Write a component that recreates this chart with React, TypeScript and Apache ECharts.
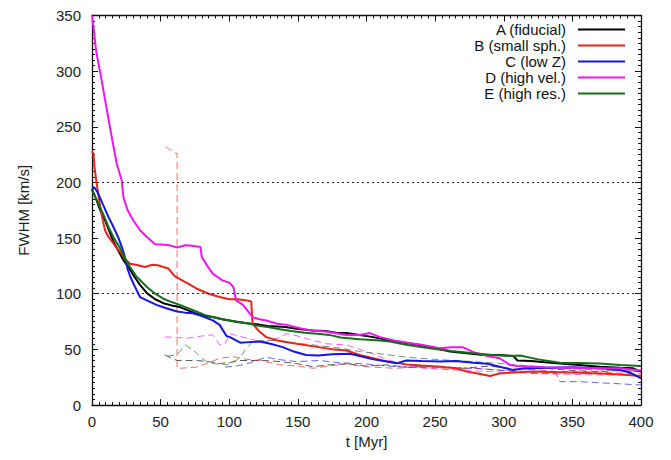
import React, { useEffect, useRef } from "react";
import * as echarts from "echarts";

// Tick settings
const xMin = 0;
const xMax = 400;
const xStep = 50;
const yMin = 0;
const yMax = 350;
const yStep = 50;
const gridLevels = [100, 200];

const legendNames = ["A (fiducial)", "B (small sph.)", "C (low Z)", "D (high vel.)", "E (high res.)"];

// Solid curves [t (Myr), FWHM (km/s)]
const seriesA = [
  [0, 194], [3, 185], [6, 175], [9.5, 166], [13, 155], [16, 146], [19, 139], [23, 130], [26.5, 124], [31, 115],
  [35, 108], [40, 100.5], [46, 95], [52, 91.5], [58, 89.5], [64, 88], [70, 85], [76, 82], [82, 80], [88, 79],
  [95, 77], [100, 76], [106, 74.5], [113, 73.5], [120, 72.5], [128, 71], [135, 70.5], [141, 70], [146.5, 69],
  [152, 68], [161, 67], [170, 66.5], [178, 65], [185.5, 64.6], [195, 63], [205, 61], [217, 58], [228, 56],
  [239, 54], [250, 51], [261, 48], [273, 46.5], [285, 45], [297, 45], [307, 44], [310, 40], [320, 39.5],
  [330, 38.5], [341, 37.4], [355, 36], [370, 34.4], [385, 33.5], [394, 33], [400, 30],
];
const seriesB = [
  [0, 228], [1, 226], [2, 212], [3.4, 199], [6, 178], [8, 165], [9.5, 157], [12, 151], [14, 148], [18, 141],
  [21.6, 136], [25, 130], [27.7, 127], [32, 126], [38.6, 124], [44, 126], [48, 125.6], [52, 124], [55.6, 122.7],
  [60, 116], [63, 113.7], [70, 109], [76, 104.7], [85, 100], [93, 97], [100, 95], [106, 95], [112.7, 94],
  [116, 93], [117, 73], [122, 66], [127, 61], [135, 58], [149, 55], [165, 52], [175, 50], [185.5, 49],
  [195, 45], [205, 42], [215, 39], [229, 36.5], [240, 35.5], [253.5, 34.4], [265, 33], [273, 30], [282, 28],
  [290, 26], [297, 28.4], [304.5, 29], [321, 30], [340, 29.5], [355, 29], [370, 28.4], [385, 27.5], [400, 26],
];
const seriesC = [
  [0, 196], [2, 195], [4.6, 190], [8, 180], [12, 169], [16, 159], [19, 151], [22, 141], [24, 133], [26, 122],
  [28, 115], [31, 107], [35, 97], [40, 94], [47, 90], [54, 87], [62, 84], [68, 83], [73.6, 82.5], [80, 80],
  [88, 76], [93, 72], [98, 62], [100.5, 61], [108, 56], [115, 56.5], [122, 57], [130, 55], [139, 52],
  [147, 48], [156, 45], [165, 44.5], [175, 45.5], [188, 46], [195, 44], [205, 41], [215, 39], [222, 37.4],
  [229, 40], [240, 39.5], [253.5, 39], [265, 39.5], [278, 38], [288, 37], [297, 34.4], [307, 31.4], [315, 33],
  [321, 33], [335, 33.5], [350, 34], [370, 33], [385, 31.4], [392, 29], [400, 24],
];
const seriesD = [
  [0, 350], [1.5, 335], [3, 318], [5.8, 300], [9, 278], [13, 250], [16, 230], [18, 217], [21.6, 202], [23, 186],
  [26, 175], [30, 166], [35, 157], [40, 151], [46, 144.5], [53, 144], [58, 143], [62, 141.5], [68, 143.6],
  [73, 143], [79, 142], [80, 133], [84, 125], [88, 118], [95, 112], [100, 110], [103, 106], [105, 94],
  [110, 90], [117, 79], [122, 77], [127, 76], [135, 73], [142, 72], [151.5, 69], [160, 67], [170, 66],
  [185.5, 63], [195, 63], [202.5, 64.6], [210, 61], [220, 58], [230, 56], [241, 54], [253.5, 51], [262, 52],
  [270, 52], [278, 47.5], [288, 44], [297, 42], [304.5, 36], [310, 35], [330, 34], [350, 33.5], [370, 33],
  [385, 33], [400, 31],
];
const seriesE = [
  [0, 193], [4, 183], [8, 172], [12, 160], [16, 150], [20, 142], [24, 132], [27.7, 124], [32, 116], [36, 111],
  [40, 106], [46, 100], [52, 95.5], [58, 92.5], [64, 90], [70, 87], [76, 84], [82, 81], [88, 79], [95, 77],
  [100, 76], [106, 74.8], [113, 73.5], [120, 71.5], [128, 70], [137, 68], [145, 66.5], [155, 65], [164, 64],
  [173, 63], [181, 60.7], [195, 59], [210, 58], [217, 57], [230, 54], [246, 51], [262, 48.5], [278, 46.4],
  [292, 45], [304.5, 44], [312, 44.5], [325, 41], [341, 38], [355, 37.8], [370, 37.4], [385, 36], [400, 35],
];

// Dashed curves
const dashA = [
  [53, 45], [58, 42], [62, 40], [70, 40], [76, 40], [85, 39], [93, 37.4], [100, 38], [106, 40], [113, 40],
  [125, 40], [137, 39], [150, 37], [161, 34.4], [172, 36], [185.5, 37], [200, 35], [215, 36], [230, 34],
  [250, 35], [270, 33], [290, 35], [310, 32], [330, 33], [350, 31], [370, 30], [385, 31], [400, 30],
];
const dashB = [
  [53.7, 232], [61, 226], [62, 226], [62, 33], [64, 33], [70, 33.5], [76, 34], [85, 38], [93, 42], [100, 43],
  [105, 43], [113, 41], [122, 40], [130, 38], [137, 36], [150, 35], [161, 33], [172, 35], [185.5, 37],
  [195, 35], [205, 34], [220, 33], [240, 34], [260, 32], [280, 33], [300, 31], [320, 32], [340, 30],
  [360, 30], [380, 29], [400, 28],
];
const dashC = [
  [97, 34], [105, 35], [113, 37], [120, 40], [127, 43], [135, 41], [149, 39], [166, 40], [180, 38], [198, 37],
  [215, 35], [229, 34], [250, 34], [278, 33], [300, 31], [321, 28.5], [338, 28.4], [341, 21], [355, 21],
  [370, 20], [385, 19], [400, 18],
];
const dashD = [
  [53, 61], [60, 61], [69, 60], [80, 62], [88, 63], [93, 54], [97, 55], [100.5, 64], [107, 62], [113, 60],
  [120, 58], [127, 57], [135, 60], [142, 64], [150, 62], [161, 58], [171, 55], [185.5, 54], [200, 48],
  [217, 40], [230, 36], [241, 33], [265, 31.4], [290, 30], [310, 29], [330, 28], [350, 27.5], [370, 27],
  [400, 27],
];
const dashE = [
  [55, 44], [62, 45], [68, 54], [75, 48], [80, 42], [83.5, 39], [90, 37], [98, 36], [104, 39], [108, 43],
  [112, 50], [117, 57], [125, 58], [132, 58], [145, 56], [161, 54], [175, 52], [181, 51], [195, 48],
  [210, 46], [229, 43], [250, 41], [278, 39], [300, 37], [320, 35], [340, 33], [360, 32], [380, 31],
  [400, 30],
];

const colors = ["#000000", "#e8241c", "#1414e6", "#f014f0", "#16701a"];
const solidData = [seriesA, seriesB, seriesC, seriesD, seriesE];
const dashData = [dashA, dashB, dashC, dashD, dashE];

const FONT = "'Liberation Sans', Arial, Helvetica, sans-serif";

function makeXAxis(top: boolean) {
  return {
    type: "value",
    position: top ? "top" : "bottom",
    min: xMin,
    max: xMax,
    interval: xStep,
    name: top ? "" : "t [Myr]",
    nameLocation: "middle",
    nameGap: 29,
    nameTextStyle: { fontSize: 15, color: "#222", fontFamily: FONT },
    axisLine: { show: true, onZero: false, lineStyle: { color: "#111", width: 1.3 } },
    axisTick: { show: true, inside: true, length: 6, lineStyle: { color: "#111", width: 1 } },
    minorTick: { show: true, splitNumber: 10, length: 3, lineStyle: { color: "#111", width: 1 } },
    splitLine: { show: false },
    minorSplitLine: { show: false },
    axisLabel: { show: !top, fontSize: 15, color: "#222", fontFamily: FONT, margin: 9 },
  };
}

function makeYAxis(right: boolean) {
  return {
    type: "value",
    position: right ? "right" : "left",
    min: yMin,
    max: yMax,
    interval: yStep,
    name: right ? "" : "FWHM [km/s]",
    nameLocation: "middle",
    nameGap: 61,
    nameTextStyle: { fontSize: 15, color: "#222", fontFamily: FONT },
    axisLine: { show: true, onZero: false, lineStyle: { color: "#111", width: 1.3 } },
    axisTick: { show: true, inside: true, length: 6, lineStyle: { color: "#111", width: 1 } },
    minorTick: { show: true, splitNumber: 10, length: 3, lineStyle: { color: "#111", width: 1 } },
    splitLine: { show: false },
    minorSplitLine: { show: false },
    axisLabel: { show: !right, fontSize: 15, color: "#222", fontFamily: FONT, margin: 11 },
  };
}

export default function App() {
  const ref = useRef<HTMLDivElement>(null);

  useEffect(() => {
    if (!ref.current) return;
    const chart = echarts.init(ref.current, null, { renderer: "svg" });

    const series: any[] = [];
    series.push({
      name: "grid",
      type: "line",
      data: [],
      z: 1,
      silent: true,
      markLine: {
        silent: true,
        symbol: "none",
        label: { show: false },
        lineStyle: { color: "#222", type: [2, 3], width: 1 },
        data: gridLevels.map((v) => ({ yAxis: v })),
      },
    });
    dashData.forEach((d, i) => {
      series.push({
        name: "dash" + i,
        type: "line",
        data: d,
        showSymbol: false,
        symbol: "none",
        z: 2,
        lineStyle: { color: colors[i], width: 1, type: [7, 4], opacity: 0.65 },
        itemStyle: { color: colors[i] },
      });
    });
    solidData.forEach((d, i) => {
      series.push({
        name: legendNames[i],
        type: "line",
        data: d,
        showSymbol: false,
        symbol: "none",
        z: 3,
        lineStyle: { color: colors[i], width: 2 },
        itemStyle: { color: colors[i] },
      });
    });

    chart.setOption({
      animation: false,
      backgroundColor: "#ffffff",
      textStyle: { fontFamily: FONT },
      grid: { left: 84, right: 30, top: 7, bottom: 55, containLabel: false },
      legend: {
        data: legendNames,
        orient: "vertical",
        align: "right",
        right: 41,
        top: 9,
        itemWidth: 47,
        itemHeight: 2,
        itemGap: 1,
        icon: "rect",
        textStyle: { fontSize: 15, color: "#111", fontFamily: FONT, lineHeight: 15, padding: [0, 7, 0, 0] },
      },
      xAxis: [makeXAxis(false), makeXAxis(true)],
      yAxis: [makeYAxis(false), makeYAxis(true)],
      series,
    });

    return () => chart.dispose();
  }, []);

  return <div ref={ref} style={{ width: 663, height: 452 }} />;
}
